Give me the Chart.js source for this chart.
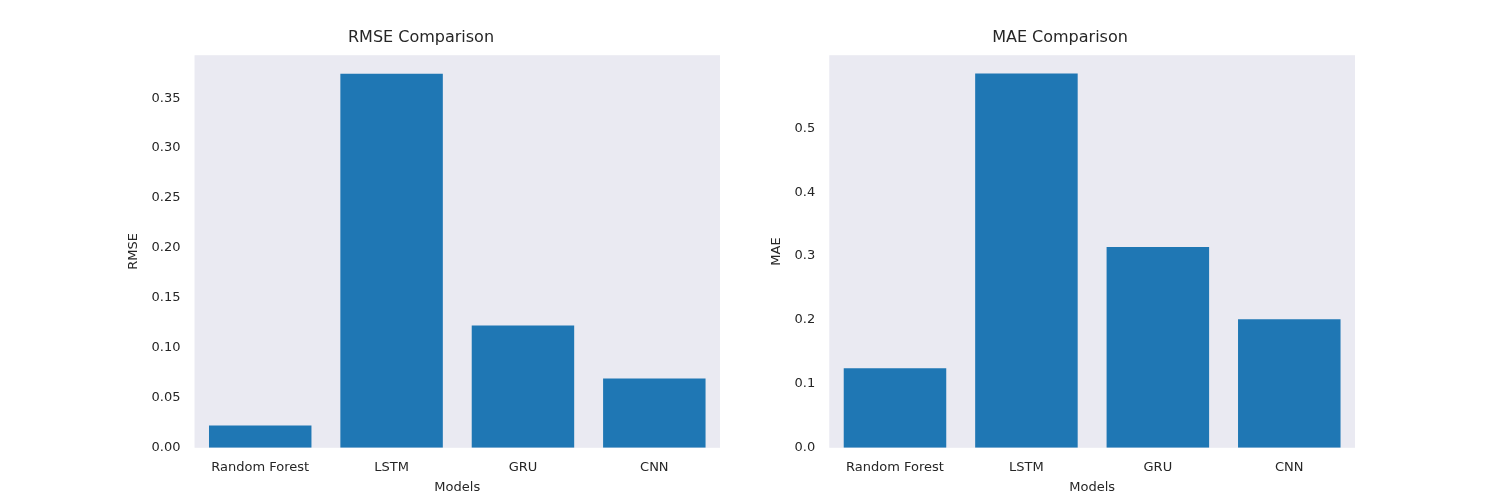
<!DOCTYPE html>
<html>
<head>
<meta charset="utf-8">
<script src="https://cdn.jsdelivr.net/npm/chart.js@4/dist/chart.umd.min.js"></script>
<style>
  body { margin: 0; background: #fff; width: 1500px; height: 500px; position: relative; }
  .box { position: absolute; top: 28px; height: 467px; }
</style>
</head>
<body>
<div class="box" style="left:122px;width:598px"><canvas id="rmse"></canvas></div>
<div class="box" style="left:765px;width:590px"><canvas id="mae"></canvas></div>
<script>
// Modelos y métricas
const modelos = ['Random Forest', 'LSTM', 'GRU', 'CNN'];
const valoresRmse = [0.0224, 0.3745, 0.1224, 0.0694];
const valoresMae = [0.1245, 0.5856, 0.3143, 0.201];

// Fondo gris del área de la gráfica (estilo seaborn-dark)
const fondoArea = {
  id: 'fondoArea',
  beforeDraw(chart) {
    const { ctx, chartArea: a } = chart;
    ctx.save();
    ctx.fillStyle = '#eaeaf2';
    ctx.fillRect(a.left, a.top, a.right - a.left, a.bottom - a.top);
    ctx.restore();
  }
};

Chart.defaults.font.family = 'DejaVu Sans';
Chart.defaults.color = '#262626';

function crearGrafica(id, titulo, etiquetaY, datos, max, paso, decimales) {
  new Chart(document.getElementById(id), {
    type: 'bar',
    data: {
      labels: modelos,
      datasets: [{
        data: datos,
        backgroundColor: '#1f77b4',
        categoryPercentage: 0.78,
        barPercentage: 1,
      }],
    },
    options: {
      responsive: true,
      maintainAspectRatio: false,
      animation: false,
      plugins: {
        legend: { display: false },
        tooltip: { enabled: false },
        title: { display: true, text: titulo, font: { size: 16, weight: 'normal' }, padding: { top: 0, bottom: 8 } },
      },
      scales: {
        x: {
          grid: { display: false },
          border: { display: false },
          ticks: { font: { size: 13 }, padding: 4 },
          title: { display: true, text: 'Models', font: { size: 13 }, padding: 0 },
        },
        y: {
          min: 0,
          max: max,
          grid: { display: false },
          border: { display: false },
          afterBuildTicks: s => { s.ticks = s.ticks.filter(t => Math.abs(t.value / paso - Math.round(t.value / paso)) < 1e-6); },
          ticks: { stepSize: paso, font: { size: 13 }, padding: 6, callback: v => v.toFixed(decimales) },
          title: { display: true, text: etiquetaY, font: { size: 13 }, padding: 4 },
        },
      },
    },
    plugins: [fondoArea],
  });
}

crearGrafica('rmse', 'RMSE Comparison', 'RMSE', valoresRmse, 0.393, 0.05, 2);
crearGrafica('mae', 'MAE Comparison', 'MAE', valoresMae, 0.6143, 0.1, 1);
</script>
</body>
</html>
